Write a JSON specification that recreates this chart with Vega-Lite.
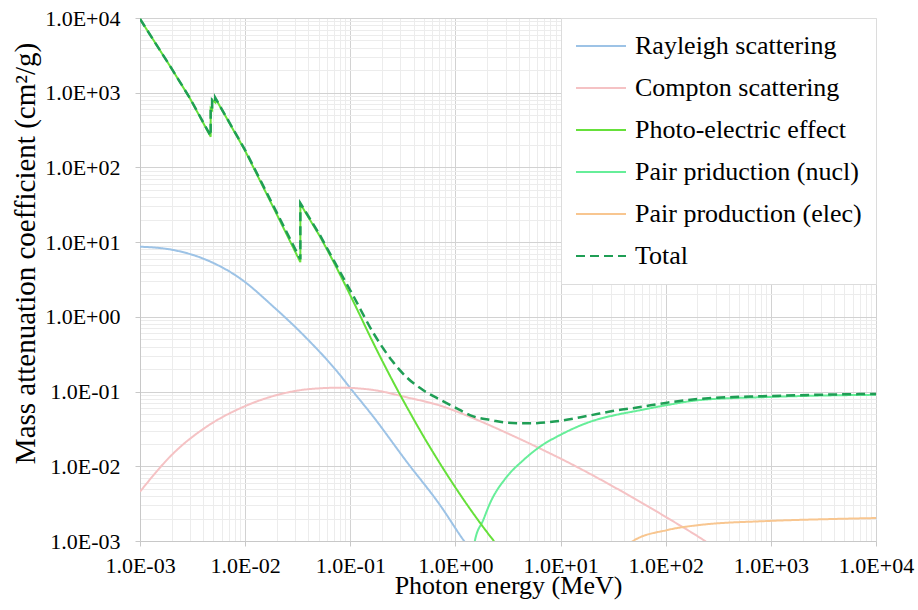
{
  "$schema": "https://vega.github.io/schema/vega-lite/v6.json",
  "width": 736,
  "height": 523,
  "autosize": {"type": "none"},
  "padding": {"left": 140, "top": 18, "right": 42, "bottom": 69},
  "background": "white",
  "data": {"values": [
    {"s": "Rayleigh scattering", "e": 0.001, "mu": 8.69},
    {"s": "Rayleigh scattering", "e": 0.002075, "mu": 7.85},
    {"s": "Rayleigh scattering", "e": 0.0043, "mu": 5.77},
    {"s": "Rayleigh scattering", "e": 0.00893, "mu": 3.28},
    {"s": "Rayleigh scattering", "e": 0.01854, "mu": 1.37},
    {"s": "Rayleigh scattering", "e": 0.03846, "mu": 0.516},
    {"s": "Rayleigh scattering", "e": 0.0798, "mu": 0.1667},
    {"s": "Rayleigh scattering", "e": 0.0993, "mu": 0.1127},
    {"s": "Rayleigh scattering", "e": 0.1656, "mu": 0.0461},
    {"s": "Rayleigh scattering", "e": 0.344, "mu": 0.0115},
    {"s": "Rayleigh scattering", "e": 0.713, "mu": 0.00303},
    {"s": "Rayleigh scattering", "e": 1.19, "mu": 0.00103},
    {"s": "Rayleigh scattering", "e": 1.6, "mu": 0.00058},
    {"s": "Compton scattering", "e": 0.001, "mu": 0.00457},
    {"s": "Compton scattering", "e": 0.002075, "mu": 0.0149},
    {"s": "Compton scattering", "e": 0.0043, "mu": 0.0339},
    {"s": "Compton scattering", "e": 0.00893, "mu": 0.0596},
    {"s": "Compton scattering", "e": 0.01854, "mu": 0.0871},
    {"s": "Compton scattering", "e": 0.03846, "mu": 0.107},
    {"s": "Compton scattering", "e": 0.0798, "mu": 0.1127},
    {"s": "Compton scattering", "e": 0.1656, "mu": 0.105},
    {"s": "Compton scattering", "e": 0.344, "mu": 0.0838},
    {"s": "Compton scattering", "e": 0.713, "mu": 0.065},
    {"s": "Compton scattering", "e": 1.48, "mu": 0.0439},
    {"s": "Compton scattering", "e": 3.08, "mu": 0.0279},
    {"s": "Compton scattering", "e": 6.37, "mu": 0.0173},
    {"s": "Compton scattering", "e": 13.2, "mu": 0.0104},
    {"s": "Compton scattering", "e": 36.7, "mu": 0.00477},
    {"s": "Compton scattering", "e": 103, "mu": 0.00205},
    {"s": "Compton scattering", "e": 247, "mu": 0.00096},
    {"s": "Compton scattering", "e": 400, "mu": 0.0006},
    {"s": "Photo-electric effect", "e": 0.001, "mu": 9700},
    {"s": "Photo-electric effect", "e": 0.002, "mu": 2100},
    {"s": "Photo-electric effect", "e": 0.003, "mu": 830},
    {"s": "Photo-electric effect", "e": 0.0047, "mu": 258},
    {"s": "Photo-electric effect", "e": 0.004701, "mu": 620},
    {"s": "Photo-electric effect", "e": 0.00485, "mu": 590},
    {"s": "Photo-electric effect", "e": 0.004851, "mu": 800},
    {"s": "Photo-electric effect", "e": 0.00519, "mu": 740},
    {"s": "Photo-electric effect", "e": 0.005191, "mu": 850},
    {"s": "Photo-electric effect", "e": 0.01, "mu": 167},
    {"s": "Photo-electric effect", "e": 0.02, "mu": 23.5},
    {"s": "Photo-electric effect", "e": 0.0335, "mu": 5.4},
    {"s": "Photo-electric effect", "e": 0.03351, "mu": 32.5},
    {"s": "Photo-electric effect", "e": 0.0515, "mu": 11.9},
    {"s": "Photo-electric effect", "e": 0.07, "mu": 5.3},
    {"s": "Photo-electric effect", "e": 0.107, "mu": 1.6},
    {"s": "Photo-electric effect", "e": 0.1656, "mu": 0.446},
    {"s": "Photo-electric effect", "e": 0.286, "mu": 0.1005},
    {"s": "Photo-electric effect", "e": 0.398, "mu": 0.0434},
    {"s": "Photo-electric effect", "e": 0.495, "mu": 0.0254},
    {"s": "Photo-electric effect", "e": 0.713, "mu": 0.0109},
    {"s": "Photo-electric effect", "e": 1.0, "mu": 0.0052},
    {"s": "Photo-electric effect", "e": 1.48, "mu": 0.00233},
    {"s": "Photo-electric effect", "e": 2.27, "mu": 0.00104},
    {"s": "Photo-electric effect", "e": 3, "mu": 0.00064},
    {"s": "Pair priduction (nucl)", "e": 1.45, "mu": 0.0005},
    {"s": "Pair priduction (nucl)", "e": 1.53, "mu": 0.001},
    {"s": "Pair priduction (nucl)", "e": 1.84, "mu": 0.00191},
    {"s": "Pair priduction (nucl)", "e": 2.13, "mu": 0.00319},
    {"s": "Pair priduction (nucl)", "e": 3.08, "mu": 0.00724},
    {"s": "Pair priduction (nucl)", "e": 4.43, "mu": 0.0121},
    {"s": "Pair priduction (nucl)", "e": 6.37, "mu": 0.0183},
    {"s": "Pair priduction (nucl)", "e": 9.89, "mu": 0.0262},
    {"s": "Pair priduction (nucl)", "e": 19.1, "mu": 0.0394},
    {"s": "Pair priduction (nucl)", "e": 36.7, "mu": 0.05},
    {"s": "Pair priduction (nucl)", "e": 48.9, "mu": 0.054},
    {"s": "Pair priduction (nucl)", "e": 103, "mu": 0.066},
    {"s": "Pair priduction (nucl)", "e": 212, "mu": 0.0771},
    {"s": "Pair priduction (nucl)", "e": 918, "mu": 0.0845},
    {"s": "Pair priduction (nucl)", "e": 3900, "mu": 0.089},
    {"s": "Pair priduction (nucl)", "e": 10000, "mu": 0.0905},
    {"s": "Pair production (elec)", "e": 35, "mu": 0.0006},
    {"s": "Pair production (elec)", "e": 48.9, "mu": 0.001},
    {"s": "Pair production (elec)", "e": 103, "mu": 0.0014},
    {"s": "Pair production (elec)", "e": 212, "mu": 0.00164},
    {"s": "Pair production (elec)", "e": 918, "mu": 0.00185},
    {"s": "Pair production (elec)", "e": 3900, "mu": 0.00197},
    {"s": "Pair production (elec)", "e": 10000, "mu": 0.00203},
    {"s": "Total", "e": 0.001, "mu": 9710},
    {"s": "Total", "e": 0.002, "mu": 2105},
    {"s": "Total", "e": 0.003, "mu": 835},
    {"s": "Total", "e": 0.0047, "mu": 264},
    {"s": "Total", "e": 0.004701, "mu": 626},
    {"s": "Total", "e": 0.00485, "mu": 595},
    {"s": "Total", "e": 0.004851, "mu": 806},
    {"s": "Total", "e": 0.00519, "mu": 745},
    {"s": "Total", "e": 0.005191, "mu": 856},
    {"s": "Total", "e": 0.01, "mu": 171},
    {"s": "Total", "e": 0.02, "mu": 24.8},
    {"s": "Total", "e": 0.0335, "mu": 5.9},
    {"s": "Total", "e": 0.03351, "mu": 33.2},
    {"s": "Total", "e": 0.0515, "mu": 12.4},
    {"s": "Total", "e": 0.07, "mu": 5.6},
    {"s": "Total", "e": 0.107, "mu": 1.9},
    {"s": "Total", "e": 0.1656, "mu": 0.61},
    {"s": "Total", "e": 0.25, "mu": 0.258},
    {"s": "Total", "e": 0.344, "mu": 0.155},
    {"s": "Total", "e": 0.495, "mu": 0.104},
    {"s": "Total", "e": 0.713, "mu": 0.078},
    {"s": "Total", "e": 1.0, "mu": 0.061},
    {"s": "Total", "e": 1.48, "mu": 0.0465},
    {"s": "Total", "e": 2.2, "mu": 0.0415},
    {"s": "Total", "e": 3.08, "mu": 0.0383},
    {"s": "Total", "e": 5.12, "mu": 0.0376},
    {"s": "Total", "e": 9.89, "mu": 0.0405},
    {"s": "Total", "e": 19.1, "mu": 0.048},
    {"s": "Total", "e": 34.2, "mu": 0.056},
    {"s": "Total", "e": 48.9, "mu": 0.06},
    {"s": "Total", "e": 103, "mu": 0.071},
    {"s": "Total", "e": 212, "mu": 0.08},
    {"s": "Total", "e": 918, "mu": 0.087},
    {"s": "Total", "e": 3900, "mu": 0.0915},
    {"s": "Total", "e": 10000, "mu": 0.093}
  ]},
  "encoding": {
    "x": {
      "field": "e", "type": "quantitative",
      "scale": {"type": "log", "domain": [0.001, 10000], "nice": false},
      "title": "Photon energy (MeV)",
      "axis": {
        "values": [0.001,0.002,0.003,0.004,0.005,0.006,0.007,0.008,0.009,0.01,0.02,0.03,0.04,0.05,0.06,0.07,0.08,0.09,0.1,0.2,0.3,0.4,0.5,0.6,0.7,0.8,0.9,1,2,3,4,5,6,7,8,9,10,20,30,40,50,60,70,80,90,100,200,300,400,500,600,700,800,900,1000,2000,3000,4000,5000,6000,7000,8000,9000,10000],
        "labelExpr": "abs(log(datum.value)/LN10 - round(log(datum.value)/LN10)) < 0.01 ? '1.0E' + (round(log(datum.value)/LN10) < 0 ? '-' : '+') + '0' + abs(round(log(datum.value)/LN10)) : ''",
        "gridColor": {"condition": {"test": "abs(log(datum.value)/LN10 - round(log(datum.value)/LN10)) < 0.01", "value": "#d2d2d2"}, "value": "#ececec"},
        "tickColor": {"condition": {"test": "abs(log(datum.value)/LN10 - round(log(datum.value)/LN10)) < 0.01", "value": "#c8c8c8"}, "value": "transparent"},
        "labelPadding": 9,
        "labelFlush": false,
        "titleBaseline": "alphabetic",
        "titleY": 52
      }
    },
    "y": {
      "field": "mu", "type": "quantitative",
      "scale": {"type": "log", "domain": [0.001, 10000], "nice": false},
      "title": "Mass attenuation coefficient (cm²/g)",
      "axis": {
        "values": [0.001,0.002,0.003,0.004,0.005,0.006,0.007,0.008,0.009,0.01,0.02,0.03,0.04,0.05,0.06,0.07,0.08,0.09,0.1,0.2,0.3,0.4,0.5,0.6,0.7,0.8,0.9,1,2,3,4,5,6,7,8,9,10,20,30,40,50,60,70,80,90,100,200,300,400,500,600,700,800,900,1000,2000,3000,4000,5000,6000,7000,8000,9000,10000],
        "labelExpr": "abs(log(datum.value)/LN10 - round(log(datum.value)/LN10)) < 0.01 ? '1.0E' + (round(log(datum.value)/LN10) < 0 ? '-' : '+') + '0' + abs(round(log(datum.value)/LN10)) : ''",
        "gridColor": {"condition": {"test": "abs(log(datum.value)/LN10 - round(log(datum.value)/LN10)) < 0.01", "value": "#d2d2d2"}, "value": "#ececec"},
        "tickColor": {"condition": {"test": "abs(log(datum.value)/LN10 - round(log(datum.value)/LN10)) < 0.01", "value": "#c8c8c8"}, "value": "transparent"},
        "labelPadding": 15,
        "titleFontSize": 29,
        "titleBaseline": "alphabetic",
        "titleX": -106,
        "titleY": 235
      }
    },
    "color": {
      "field": "s", "type": "nominal",
      "scale": {
        "domain": ["Rayleigh scattering", "Compton scattering", "Photo-electric effect", "Pair priduction (nucl)", "Pair production (elec)", "Total"],
        "range": ["#9DC3E6", "#F5C2C4", "#66E03A", "#66EE99", "#F8C690", "#1F9E55"]
      },
      "legend": {"title": null}
    },
    "strokeDash": {
      "field": "s", "type": "nominal",
      "scale": {
        "domain": ["Rayleigh scattering", "Compton scattering", "Photo-electric effect", "Pair priduction (nucl)", "Pair production (elec)", "Total"],
        "range": [[1, 0], [1, 0], [1, 0], [1, 0], [1, 0], [9, 5]]
      },
      "legend": {"title": null}
    }
  },
  "layer": [
    {
      "transform": [{"filter": "datum.s != 'Photo-electric effect' && datum.s != 'Total'"}],
      "mark": {"type": "line", "clip": true, "strokeWidth": 2, "interpolate": "monotone"}
    },
    {
      "transform": [{"filter": "datum.s == 'Photo-electric effect' && datum.e <= 0.0515"}],
      "mark": {"type": "line", "clip": true, "strokeWidth": 2}
    },
    {
      "transform": [{"filter": "datum.s == 'Photo-electric effect' && datum.e >= 0.0515"}],
      "mark": {"type": "line", "clip": true, "strokeWidth": 2, "interpolate": "monotone"}
    },
    {
      "transform": [{"filter": "datum.s == 'Total' && datum.e <= 0.0515"}],
      "mark": {"type": "line", "clip": true, "strokeWidth": 2.5}
    },
    {
      "transform": [{"filter": "datum.s == 'Total' && datum.e >= 0.0515"}],
      "mark": {"type": "line", "clip": true, "strokeWidth": 2.5, "interpolate": "monotone"}
    }
  ],
  "config": {
    "view": {"stroke": null},
    "font": "Liberation Serif",
    "axis": {
      "labelFont": "Liberation Serif",
      "labelFontSize": 22,
      "labelColor": "#000",
      "labelOverlap": false,
      "titleFont": "Liberation Serif",
      "titleFontSize": 26,
      "titleFontWeight": "normal",
      "titleColor": "#000",
      "domainColor": "#c8c8c8",
      "tickSize": 5,
      "grid": true,
      "gridWidth": 1
    },
    "legend": {
      "orient": "none",
      "legendX": 421,
      "legendY": 0,
      "padding": 14,
      "fillColor": "white",
      "strokeColor": "#dcdcdc",
      "symbolType": "stroke",
      "symbolSize": 2500,
      "symbolStrokeWidth": 2,
      "labelFont": "Liberation Serif",
      "labelFontSize": 26,
      "labelColor": "#000",
      "labelOffset": 8,
      "rowPadding": 14,
      "clipHeight": 28,
      "labelLimit": 400
    }
  }
}
